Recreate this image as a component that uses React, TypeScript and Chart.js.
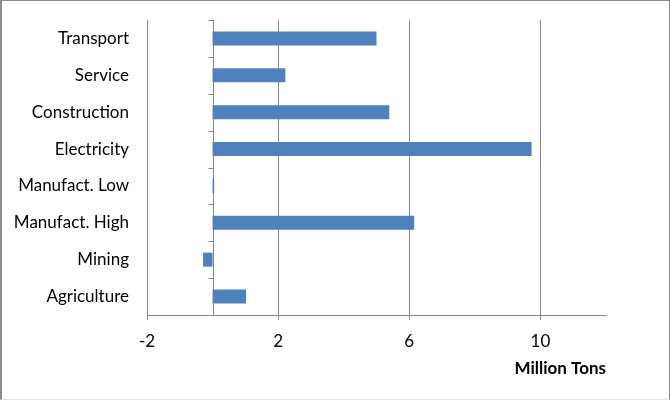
import React, { useEffect, useRef } from "react";
import { Chart, registerables } from "chart.js";

Chart.register(...registerables);

const categories = [
  "Transport",
  "Service",
  "Construction",
  "Electricity",
  "Manufact. Low",
  "Manufact. High",
  "Mining",
  "Agriculture",
];
const values = [5.0, 2.22, 5.39, 9.73, 0.05, 6.15, -0.29, 1.02];
const xTicks = [-2, 2, 6, 10];
const xMin = -2;
const xMax = 12;
const axisTitle = "Million Tons";

const FONT = "Lato, 'Open Sans', sans-serif";
const GRID = "#868686";

const zeroLinePlugin = {
  id: "zeroLine",
  beforeDatasetsDraw(chart: any) {
    const { ctx, scales } = chart;
    const x = Math.round(scales.x.getPixelForValue(0)) + 0.5;
    const y = scales.y;
    ctx.save();
    ctx.strokeStyle = GRID;
    ctx.lineWidth = 1;
    ctx.beginPath();
    ctx.moveTo(x, y.top);
    ctx.lineTo(x, y.bottom);
    for (let i = 0; i <= categories.length; i++) {
      const yy = Math.round(y.getPixelForValue(i - 0.5)) + 0.5;
      ctx.moveTo(x - 5, yy);
      ctx.lineTo(x, yy);
    }
    ctx.stroke();
    ctx.restore();
  },
};

const zeroPad = (scale: any) => {
  scale.paddingTop = 0;
  scale.paddingBottom = 0;
  scale.paddingLeft = 0;
  scale.paddingRight = 0;
};

export default function App() {
  const ref = useRef<HTMLCanvasElement | null>(null);

  useEffect(() => {
    document.body.style.margin = "0";
    const canvas = ref.current;
    if (!canvas) return;
    const chart = new Chart(canvas, {
      type: "bar",
      data: {
        labels: categories,
        datasets: [
          {
            data: values,
            backgroundColor: "#4F81BD",
            borderWidth: 0,
            barPercentage: 0.38,
            categoryPercentage: 1,
          },
        ],
      },
      plugins: [zeroLinePlugin],
      options: {
        indexAxis: "y",
        animation: false,
        responsive: false,
        devicePixelRatio: 1,
        layout: { padding: { top: 20, right: 65, bottom: 0, left: 0 } },
        plugins: {
          legend: { display: false },
          tooltip: { enabled: false },
        },
        scales: {
          x: {
            type: "linear",
            min: xMin,
            max: xMax,
            afterBuildTicks: (scale: any) => {
              scale.ticks = xTicks.map((v) => ({ value: v }));
            },
            afterFit: (scale: any) => {
              scale.height = 86;
              zeroPad(scale);
            },
            grid: {
              color: GRID,
              lineWidth: 1,
              tickLength: 5,
              drawTicks: true,
            },
            border: { display: true, color: GRID, width: 1 },
            ticks: {
              color: "#000",
              font: { family: FONT, size: 17 },
              padding: 11,
              maxRotation: 0,
            },
            title: {
              display: true,
              text: axisTitle,
              align: "end",
              color: "#000",
              font: { family: FONT, size: 17, weight: "bold" },
              padding: { top: 0, bottom: 22 },
            },
          },
          y: {
            type: "category",
            afterFit: (scale: any) => {
              scale.width = 147;
              zeroPad(scale);
            },
            grid: { display: false },
            border: { display: false },
            ticks: {
              color: "#000",
              font: { family: FONT, size: 17 },
              padding: 10,
            },
          },
        },
      },
    } as any);
    return () => chart.destroy();
  }, []);

  return (
    <div style={{ position: "relative", width: 671, height: 401, background: "#fff" }}>
      <canvas ref={ref} width={671} height={401} style={{ display: "block" }} />
      <div
        style={{
          position: "absolute",
          left: 0,
          top: 0,
          width: 670,
          height: 400,
          boxSizing: "border-box",
          borderTop: "1px solid #8c8c8c",
          borderRight: "1px solid #8c8c8c",
          borderLeft: "2px solid #8c8c8c",
          borderBottom: "1px solid #e4e4e4",
          pointerEvents: "none",
        }}
      />
    </div>
  );
}
